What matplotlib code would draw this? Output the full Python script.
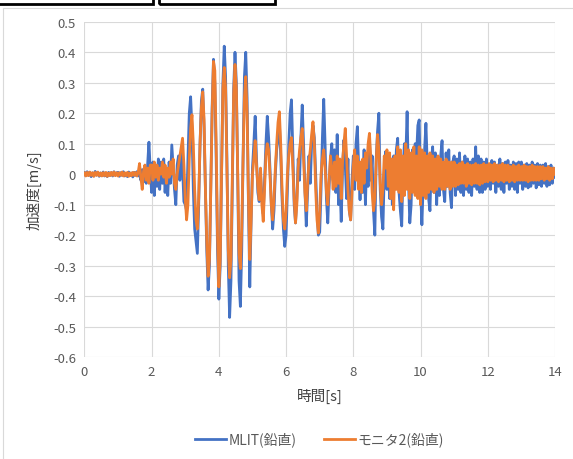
import numpy as np
import matplotlib
matplotlib.use("Agg")
import matplotlib.pyplot as plt
from matplotlib.patches import Rectangle

plt.rcParams['font.family'] = ['Noto Sans CJK JP', 'DejaVu Sans']

# sample step of the read-off values [s]
dt = 0.04

# MLIT(鉛直) acceleration [m/s], one row per second
mlit = [
    0.005, -0.005, 0.008, -0.004, 0.006, -0.008, 0.004, -0.006, 0.009, -0.003, 0.005, -0.007, 0.004,
    -0.005, 0.007, -0.006, 0.003, -0.008, 0.006, -0.004, 0.005, -0.006, 0.008, -0.003, 0.004,
    0.006, -0.007, 0.005, -0.004, 0.008, -0.006, 0.003, -0.008, 0.007, -0.005, 0.004, -0.009, 0.006,
    -0.004, 0.008, -0.006, 0.005, -0.02, 0.015, -0.025, 0.02, -0.03, 0.03, 0.105, 0.01,
    -0.06, 0.04, -0.07, 0.03, -0.04, 0.05, -0.05, 0.04, -0.03, 0.05, -0.06, 0.02, -0.07,
    0.04, -0.03, 0.096, 0.02, -0.05, -0.10, 0.03, 0.06, -0.02, 0.07, 0.02, -0.09,
    -0.10, -0.12, 0.05, 0.20, 0.254, 0.15, -0.05, -0.18, -0.22, -0.26, -0.10, 0.10, 0.24,
    0.279, 0.15, -0.05, -0.25, -0.38, -0.30, -0.05, 0.22, 0.377, 0.30, 0.05, -0.25,
    -0.41, -0.30, 0.0, 0.30, 0.42, 0.32, 0.05, -0.30, -0.47, -0.35, -0.05, 0.28, 0.40,
    0.30, 0.0, -0.35, -0.434, -0.25, 0.05, 0.32, 0.40, 0.25, -0.10, -0.37, -0.15,
    0.02, 0.10, 0.19, 0.05, -0.06, -0.09, 0.0, -0.08, -0.13, -0.02, 0.10, 0.19, 0.12,
    0.02, -0.10, -0.18, -0.12, 0.0, 0.08, 0.12, 0.17, 0.06, -0.08, -0.18, -0.237,
    -0.20, -0.05, 0.10, 0.20, 0.244, 0.08, -0.10, -0.16, -0.08, 0.05, -0.02, 0.12, 0.227,
    0.10, -0.05, -0.17, -0.06, 0.06, -0.03, 0.10, 0.16, 0.12, 0.0, -0.12, -0.20,
    -0.19, -0.05, 0.12, 0.246, 0.10, -0.08, -0.16, -0.04, 0.05, 0.10, -0.02, 0.08, -0.06,
    0.13, -0.10, -0.03, -0.155, 0.02, 0.112, 0.03, -0.08, 0.05, -0.12, -0.15, -0.02,
    0.06, -0.05, 0.10, 0.156, 0.02, -0.084, 0.04, -0.06, 0.08, -0.10, 0.05, -0.04, 0.12,
    -0.02, 0.06, -0.12, -0.20, 0.05, 0.14, 0.20, -0.05, -0.14, -0.18, 0.0, 0.074,
    -0.05, 0.03, -0.08, 0.05, -0.10, 0.06, -0.04, 0.08, 0.118, -0.06, -0.12, -0.17, 0.02,
    0.10, 0.05, 0.205, -0.02, -0.16, -0.10, 0.08, -0.05, 0.10, 0.06, 0.16, 0.178,
    -0.05, -0.166, -0.03, 0.08, 0.167, 0.03, -0.08, -0.12, 0.04, 0.09, -0.06, 0.07, -0.10,
    0.05, -0.07, 0.06, 0.11, -0.05, -0.09, 0.07, -0.04, 0.08, -0.06, -0.11, 0.04,
    0.06, -0.07, 0.05, -0.05, 0.07, -0.06, 0.04, -0.07, 0.06, -0.05, 0.05, -0.06, 0.04,
    -0.07, 0.05, -0.04, 0.09, -0.05, 0.06, -0.06, 0.05, -0.06, 0.04, -0.05, 0.05,
    -0.04, 0.03, -0.05, 0.045, -0.03, 0.04, -0.06, 0.03, -0.04, 0.05, -0.05, 0.035, -0.06,
    0.04, -0.03, 0.045, -0.05, 0.03, -0.04, 0.04, -0.05, 0.035, -0.06, 0.04, -0.03,
    0.04, -0.05, 0.03, -0.04, 0.035, -0.045, 0.03, -0.04, 0.04, -0.03, 0.03, -0.045, 0.035,
    -0.035, 0.03, -0.04, 0.03, -0.03, 0.035, -0.04, 0.025, -0.035, 0.03, -0.03, 0.02,
    -0.01,
]

# モニタ2(鉛直) acceleration [m/s]
monitor2 = [
    0.004, -0.006, 0.006, -0.005, 0.007, -0.004, 0.005, -0.007, 0.006, -0.004, 0.007, -0.005, 0.004,
    -0.006, 0.005, -0.005, 0.006, -0.007, 0.004, -0.005, 0.006, -0.004, 0.007, -0.005, 0.005,
    -0.006, 0.005, -0.004, 0.007, -0.006, 0.005, -0.005, 0.006, -0.007, 0.004, -0.005, 0.006,
    -0.004, 0.006, -0.006, 0.006, 0.035, -0.01, -0.05, 0.01, 0.03, -0.02, 0.02, -0.03, 0.03,
    0.03, -0.02, 0.04, -0.01, 0.03, -0.02, 0.02, 0.0, 0.04, -0.01, 0.03, -0.03, 0.02,
    -0.01, 0.04, 0.0, 0.05, -0.03, -0.05, 0.0, 0.03, 0.06, 0.09, 0.118, 0.03,
    -0.08, -0.15, -0.10, 0.05, 0.15, 0.195, 0.10, -0.05, -0.15, -0.18, -0.08, 0.10, 0.22,
    0.27, 0.18, -0.05, -0.22, -0.335, -0.28, -0.05, 0.20, 0.37, 0.34, 0.10, -0.20,
    -0.37, -0.28, 0.0, 0.28, 0.35, 0.28, 0.02, -0.25, -0.34, -0.28, -0.02, 0.26, 0.36,
    0.28, 0.0, -0.26, -0.31, -0.18, 0.05, 0.25, 0.32, 0.20, -0.08, -0.28, -0.15,
    0.0, 0.05, 0.11, 0.03, -0.04, -0.084, 0.02, -0.10, -0.155, -0.05, 0.06, 0.10, 0.08,
    0.0, -0.10, -0.15, -0.08, 0.02, 0.10, 0.17, 0.205, 0.10, -0.05, -0.15, -0.18,
    -0.12, 0.0, 0.06, 0.10, 0.12, 0.02, -0.08, -0.16, -0.10, 0.02, 0.08, 0.12, 0.15,
    0.05, -0.06, -0.12, -0.03, 0.04, 0.08, 0.13, 0.172, 0.10, -0.05, -0.15, -0.193,
    -0.12, 0.0, 0.05, 0.08, 0.02, -0.06, -0.10, -0.02, 0.06, 0.02, -0.05, 0.04, -0.04,
    0.06, -0.03, 0.05, -0.08, 0.04, 0.10, 0.15, 0.06, -0.05, -0.12, -0.15, -0.06,
    0.03, 0.08, -0.02, 0.06, -0.05, 0.04, -0.06, 0.05, -0.03, 0.07, 0.02, 0.10, 0.134,
    0.05, -0.06, -0.12, -0.08, 0.04, 0.13, 0.08, -0.03, -0.10, -0.05, 0.06, 0.02,
    0.08, -0.04, 0.07, -0.08, 0.05, -0.117, 0.06, -0.05, 0.09, -0.06, 0.08, -0.09, 0.06,
    -0.07, 0.10, -0.05, 0.08, -0.08, 0.07, -0.06, 0.09, -0.07, 0.06, -0.08, 0.09,
    -0.10, 0.08, -0.07, 0.07, -0.08, 0.06, -0.06, 0.07, -0.05, 0.06, -0.06, 0.05, -0.05,
    0.06, -0.04, 0.05, -0.05, 0.04, -0.05, 0.05, -0.04, 0.04, -0.05, 0.04, -0.04,
    0.04, -0.04, 0.03, -0.035, 0.035, -0.03, 0.04, -0.03, 0.03, -0.04, 0.035, -0.03, 0.03,
    -0.035, 0.03, -0.03, 0.035, -0.03, 0.03, -0.035, 0.03, -0.03, 0.035, -0.025, 0.03,
    -0.025, 0.035, -0.02, 0.03, -0.025, 0.035, -0.02, 0.03, -0.025, 0.03, -0.02, 0.035, -0.025,
    0.03, -0.02, 0.03, -0.025, 0.025, -0.02, 0.03, -0.025, 0.025, -0.02, 0.03, -0.02,
    0.025, -0.02, 0.03, -0.02, 0.025, -0.025, 0.025, -0.02, 0.03, -0.02, 0.025, -0.02, 0.025,
    -0.02, 0.025, -0.015, 0.025, -0.02, 0.02, -0.015, 0.025, -0.02, 0.02, -0.015, 0.02,
    0.0,
]

series_names = ['MLIT(鉛直)', 'モニタ2(鉛直)']
series_colors = ['#4472C4', '#ED7D31']

x_ticks = [0, 2, 4, 6, 8, 10, 12, 14]
y_ticks = [0.5, 0.4, 0.3, 0.2, 0.1, 0, -0.1, -0.2, -0.3, -0.4, -0.5, -0.6]

fig = plt.figure(figsize=(5.73, 4.60), dpi=100)
ax = fig.add_axes([0.1473, 0.2217, 0.9686 - 0.1473, 0.9504 - 0.2217])

for vals, name, col in zip([mlit, monitor2], series_names, series_colors):
    t = np.arange(len(vals)) * dt
    ax.plot(t, vals, color=col, lw=2.0, label=name, solid_joinstyle='round')

ax.set_xlim(0, 14)
ax.set_ylim(-0.6, 0.5)
ax.set_xticks(x_ticks)
ax.set_yticks(y_ticks)
ax.set_yticklabels([f"{v:g}" for v in y_ticks])
ax.grid(True, color='#d9d9d9', lw=0.8)
ax.set_axisbelow(True)
for s in ax.spines.values():
    s.set_visible(False)
ax.tick_params(length=0, labelsize=9.5, labelcolor='#595959', pad=6)

ax.set_xlabel('時間[s]', fontsize=10.5, color='#404040', labelpad=7)
ax.set_ylabel('加速度[m/s]', fontsize=10.5, color='#404040', labelpad=8)

ax.legend(loc='upper center', bbox_to_anchor=(0.5, -0.185), ncol=2, frameon=False,
          fontsize=10, labelcolor='#595959', handlelength=2.2, columnspacing=2.0,
          handletextpad=0.2)

# chart-area border and the cell borders visible above it
fig.patches.append(Rectangle((3 / 573, -0.05), 1.2, 1 - 9 / 460 + 0.05,
                             transform=fig.transFigure, fill=False,
                             edgecolor='#d9d9d9', lw=0.8))
fig.patches.append(Rectangle((-0.01, 1 - 4.5 / 460), 159 / 573, 0.05,
                             transform=fig.transFigure, fill=False,
                             edgecolor='black', lw=2.0))
fig.patches.append(Rectangle((159 / 573, 1 - 4.5 / 460), (275 - 159) / 573, 0.05,
                             transform=fig.transFigure, fill=False,
                             edgecolor='black', lw=2.0))

fig.savefig('out.png', dpi=100)
